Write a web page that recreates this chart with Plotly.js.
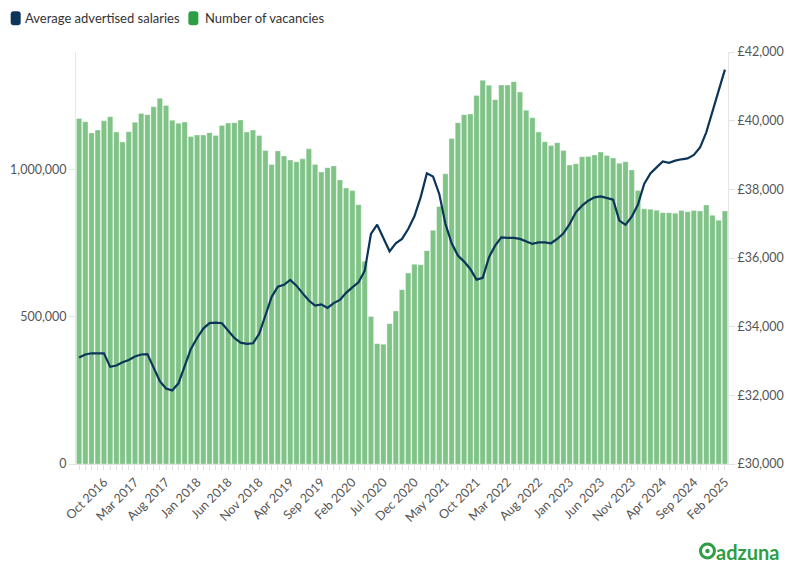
<!DOCTYPE html>
<html>
<head>
<meta charset="utf-8">
<script src="https://cdn.plot.ly/plotly-3.0.1.min.js"></script>
<style>
  html, body { margin: 0; padding: 0; background: #fff; }
  #chart { width: 789px; height: 566px; }
</style>
</head>
<body>
<div id="chart"></div>
<script>
// --- data (Jun 2016 .. Feb 2025, monthly) ---
const months = [
  'Jun 2016', 'Jul 2016', 'Aug 2016', 'Sep 2016', 'Oct 2016', 'Nov 2016', 'Dec 2016',
  'Jan 2017', 'Feb 2017', 'Mar 2017', 'Apr 2017', 'May 2017', 'Jun 2017', 'Jul 2017', 'Aug 2017', 'Sep 2017', 'Oct 2017', 'Nov 2017', 'Dec 2017',
  'Jan 2018', 'Feb 2018', 'Mar 2018', 'Apr 2018', 'May 2018', 'Jun 2018', 'Jul 2018', 'Aug 2018', 'Sep 2018', 'Oct 2018', 'Nov 2018', 'Dec 2018',
  'Jan 2019', 'Feb 2019', 'Mar 2019', 'Apr 2019', 'May 2019', 'Jun 2019', 'Jul 2019', 'Aug 2019', 'Sep 2019', 'Oct 2019', 'Nov 2019', 'Dec 2019',
  'Jan 2020', 'Feb 2020', 'Mar 2020', 'Apr 2020', 'May 2020', 'Jun 2020', 'Jul 2020', 'Aug 2020', 'Sep 2020', 'Oct 2020', 'Nov 2020', 'Dec 2020',
  'Jan 2021', 'Feb 2021', 'Mar 2021', 'Apr 2021', 'May 2021', 'Jun 2021', 'Jul 2021', 'Aug 2021', 'Sep 2021', 'Oct 2021', 'Nov 2021', 'Dec 2021',
  'Jan 2022', 'Feb 2022', 'Mar 2022', 'Apr 2022', 'May 2022', 'Jun 2022', 'Jul 2022', 'Aug 2022', 'Sep 2022', 'Oct 2022', 'Nov 2022', 'Dec 2022',
  'Jan 2023', 'Feb 2023', 'Mar 2023', 'Apr 2023', 'May 2023', 'Jun 2023', 'Jul 2023', 'Aug 2023', 'Sep 2023', 'Oct 2023', 'Nov 2023', 'Dec 2023',
  'Jan 2024', 'Feb 2024', 'Mar 2024', 'Apr 2024', 'May 2024', 'Jun 2024', 'Jul 2024', 'Aug 2024', 'Sep 2024', 'Oct 2024', 'Nov 2024', 'Dec 2024',
  'Jan 2025', 'Feb 2025'
];

const tickLabels = [
  'Oct 2016', 'Mar 2017', 'Aug 2017', 'Jan 2018', 'Jun 2018', 'Nov 2018', 'Apr 2019',
  'Sep 2019', 'Feb 2020', 'Jul 2020', 'Dec 2020', 'May 2021', 'Oct 2021', 'Mar 2022',
  'Aug 2022', 'Jan 2023', 'Jun 2023', 'Nov 2023', 'Apr 2024', 'Sep 2024', 'Feb 2025'
];

// number of vacancies (left axis)
const vacancies = [
  1174000, 1163000, 1125000, 1135000, 1166000, 1180000, 1128000, 1094000, 1129000, 1161000, 1191000,
  1187000, 1214000, 1243000, 1218000, 1168000, 1158000, 1162000, 1113000, 1118000, 1118000,
  1126000, 1116000, 1150000, 1159000, 1160000, 1169000, 1128000, 1135000, 1116000, 1065000, 1018000,
  1064000, 1047000, 1033000, 1027000, 1037000, 1071000, 1018000, 992000, 1007000, 1013000,
  965000, 938000, 929000, 881000, 689000, 501000, 409000, 407000, 477000, 520000, 592000,
  649000, 679000, 677000, 725000, 794000, 875000, 986000, 1106000, 1160000, 1187000,
  1189000, 1252000, 1304000, 1287000, 1238000, 1288000, 1288000, 1299000, 1264000, 1202000, 1177000,
  1128000, 1095000, 1082000, 1092000, 1065000, 1016000, 1020000, 1044000, 1045000, 1050000,
  1060000, 1048000, 1040000, 1022000, 1027000, 999000, 929000, 867000, 866000, 862000, 854000,
  854000, 852000, 861000, 857000, 861000, 860000, 880000, 845000, 828000, 860000
];

// average advertised salary in GBP (right axis)
const salaries = [
  33100, 33190, 33225, 33215, 33225, 32830, 32870, 32965, 33030, 33130, 33190,
  33200, 32810, 32415, 32200, 32140, 32350, 32880, 33350, 33670, 33945,
  34105, 34120, 34100, 33885, 33670, 33535, 33500, 33515, 33790, 34325, 34865,
  35165, 35220, 35360, 35195, 34970, 34760, 34615, 34650, 34545, 34685,
  34780, 34985, 35145, 35290, 35630, 36700, 36970, 36600, 36195, 36430, 36555,
  36845, 37215, 37765, 38465, 38370, 37865, 36990, 36430, 36070, 35895,
  35680, 35370, 35420, 36020, 36360, 36600, 36585, 36585, 36555, 36485, 36410,
  36455, 36455, 36430, 36555, 36720, 36990, 37330, 37525, 37670, 37765,
  37795, 37750, 37700, 37090, 36965, 37205, 37555, 38155, 38465, 38640, 38815,
  38770, 38835, 38875, 38900, 39000, 39220, 39660, 40290, 40895, 41485
];

const NAVY = '#0c355a';
const GREEN = '#2e9e44';
const BAR_GREEN = '#7fc387';
const FONT = 'Lato, "Source Sans Pro", "Open Sans", sans-serif';

// === traces ===
const barTrace = {
  type: 'bar',
  name: 'Number of vacancies',
  x: months,
  y: vacancies,
  yaxis: 'y',
  marker: {
    color: BAR_GREEN,
    line: { color: 'rgba(255,255,255,0.55)', width: 0.6 }
  },
  hoverinfo: 'x+y'
};

const lineTrace = {
  type: 'scatter',
  mode: 'lines',
  name: 'Average advertised salaries',
  x: months,
  y: salaries,
  yaxis: 'y2',
  line: { color: NAVY, width: 2.2, shape: 'linear' },
  hoverinfo: 'x+y'
};

// legend drawn by hand: rounded swatch + text
function swatch(cx, color) {
  return {
    type: 'path',
    xref: 'paper', yref: 'paper',
    xsizemode: 'pixel', ysizemode: 'pixel',
    xanchor: cx, yanchor: 1.082,
    path: 'M -2,-7 H 2 Q 5,-7 5,-4 V 4 Q 5,7 2,7 H -2 Q -5,7 -5,4 V -4 Q -5,-7 -2,-7 Z',
    fillcolor: color,
    line: { width: 0 }
  };
}

const layout = {
  width: 789,
  height: 566,
  margin: { l: 76, r: 61, t: 52, b: 102 },
  paper_bgcolor: '#ffffff',
  plot_bgcolor: '#ffffff',
  font: { family: FONT, size: 12, color: '#555555' },
  showlegend: false,
  bargap: 0.14,
  xaxis: {
    type: 'category',
    tickmode: 'array',
    tickvals: months,
    ticktext: months.map(m => tickLabels.includes(m) ? m : ''),
    tickangle: -45,
    ticks: 'outside',
    ticklen: 5,
    tickcolor: '#e2e2e2',
    tickfont: { family: FONT, size: 12.5, color: '#555555' },
    showline: true,
    linecolor: '#e2e2e2',
    showgrid: false,
    zeroline: false
  },
  yaxis: {
    range: [0, 1400000],
    tickvals: [0, 500000, 1000000],
    tickformat: ',',
    ticks: 'outside',
    ticklen: 6,
    tickcolor: '#e2e2e2',
    showline: true,
    linecolor: '#e6e6e6',
    showgrid: false,
    zeroline: false,
    tickfont: { family: FONT, size: 12.5, color: '#555555' }
  },
  yaxis2: {
    overlaying: 'y',
    side: 'right',
    range: [30000, 42000],
    dtick: 2000,
    tickprefix: '£',
    tickformat: ',',
    ticks: 'outside',
    ticklen: 6,
    tickcolor: '#e2e2e2',
    showline: true,
    linecolor: '#e6e6e6',
    showgrid: false,
    zeroline: false,
    tickfont: { family: FONT, size: 12.5, color: '#555555' }
  },
  shapes: [
    swatch(-0.0925, NAVY),
    swatch(0.180, GREEN),
    // adzuna mark
    {
      type: 'circle', xref: 'paper', yref: 'paper',
      xsizemode: 'pixel', ysizemode: 'pixel',
      xanchor: 0.9685, yanchor: -0.2110,
      x0: -7, x1: 7, y0: -7, y1: 7,
      line: { color: GREEN, width: 3 }
    },
    {
      type: 'circle', xref: 'paper', yref: 'paper',
      xsizemode: 'pixel', ysizemode: 'pixel',
      xanchor: 0.9685, yanchor: -0.2110,
      x0: -2.2, x1: 2.2, y0: -2.2, y1: 2.2,
      fillcolor: GREEN,
      line: { width: 0 }
    }
  ],
  annotations: [
    {
      xref: 'paper', yref: 'paper', x: -0.0808, y: 1.082,
      xanchor: 'left', yanchor: 'middle', showarrow: false,
      text: 'Average advertised salaries',
      font: { family: FONT, size: 13, color: '#333333' }
    },
    {
      xref: 'paper', yref: 'paper', x: 0.1948, y: 1.082,
      xanchor: 'left', yanchor: 'middle', showarrow: false,
      text: 'Number of vacancies',
      font: { family: FONT, size: 13, color: '#333333' }
    },
    {
      xref: 'paper', yref: 'paper', x: 0.979, y: -0.214,
      xanchor: 'left', yanchor: 'middle', showarrow: false,
      text: '<b>adzuna</b>',
      font: { family: FONT, size: 20, color: GREEN }
    }
  ]
};

Plotly.newPlot('chart', [barTrace, lineTrace], layout, { displayModeBar: false, staticPlot: true });
</script>
</body>
</html>
